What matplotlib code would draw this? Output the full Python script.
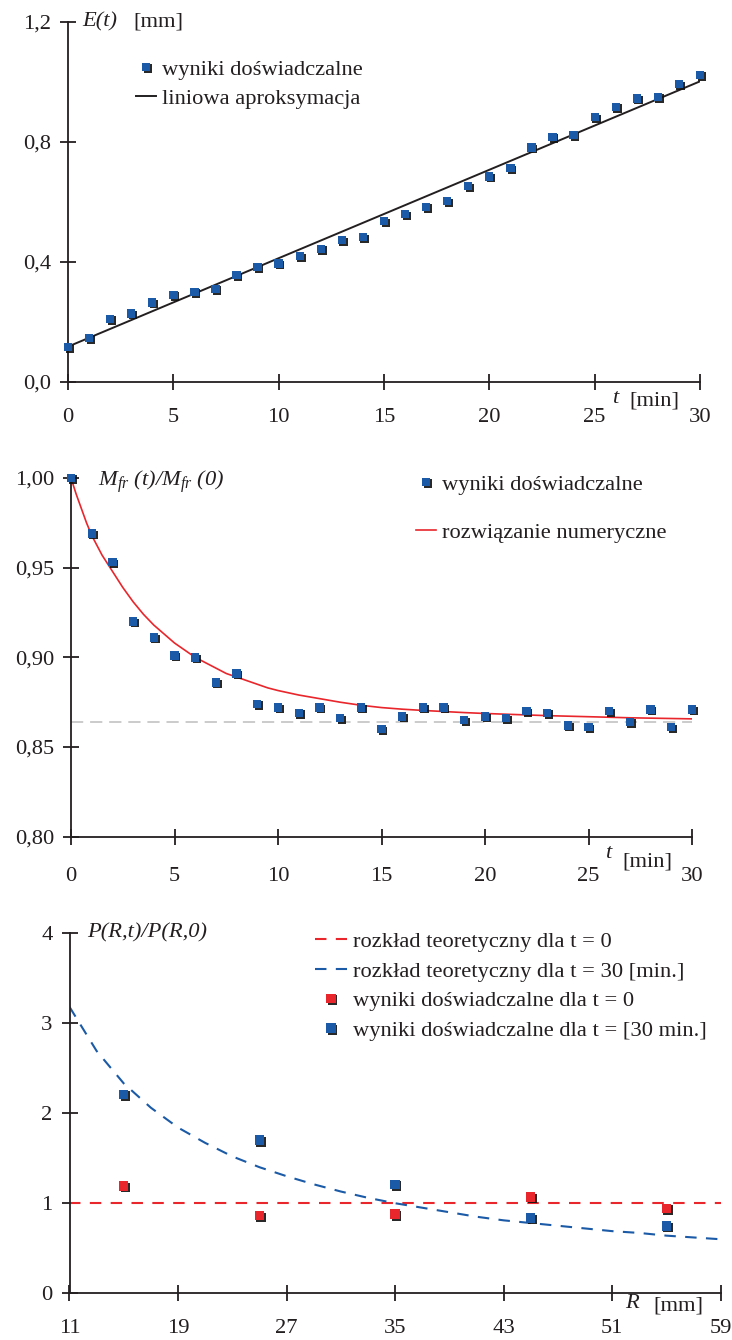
import numpy as np
import matplotlib
matplotlib.use("Agg")
import matplotlib.pyplot as plt
import matplotlib.patheffects as pe

# ---------------------------------------------------------------- data
# panel 1: E(t) [mm]
t_exp = list(range(0, 31))
E_exp = [0.115, 0.146, 0.210, 0.228, 0.264, 0.290, 0.300, 0.310, 0.355, 0.382,
         0.394, 0.419, 0.443, 0.472, 0.482, 0.536, 0.559, 0.583, 0.602, 0.652,
         0.685, 0.712, 0.781, 0.817, 0.824, 0.882, 0.917, 0.945, 0.950, 0.993,
         1.024]
t_lin = [0, 30]
E_lin = [0.117, 1.002]

# panel 2: M_fr(t)/M_fr(0)
M_exp = [1.000, 0.969, 0.953, 0.920, 0.911, 0.901, 0.900, 0.886, 0.891, 0.874,
         0.872, 0.869, 0.872, 0.866, 0.872, 0.860, 0.867, 0.872, 0.872, 0.865,
         0.867, 0.866, 0.870, 0.869, 0.862, 0.861, 0.870, 0.864, 0.871, 0.861,
         0.871]
t_num = [0, 0.25, 0.5, 0.75, 1, 1.5, 2, 2.5, 3, 3.5, 4, 4.5, 5, 5.5, 6, 6.5, 7,
         7.5, 8, 8.5, 9, 9.5, 10, 11, 12, 13, 14, 15, 16, 17, 18, 19, 20, 21,
         22, 23, 24, 25, 26, 27, 28, 29, 30]
M_num = [1.000, 0.991, 0.983, 0.975, 0.968, 0.957, 0.948, 0.939, 0.931, 0.924,
         0.918, 0.913, 0.908, 0.904, 0.900, 0.897, 0.894, 0.891, 0.889, 0.887,
         0.885, 0.883, 0.8815, 0.879, 0.877, 0.875, 0.8733, 0.8720, 0.8711,
         0.8704, 0.8698, 0.8692, 0.8687, 0.8683, 0.8679, 0.8675, 0.8672,
         0.8669, 0.8666, 0.8663, 0.8661, 0.8659, 0.8657]
M_inf = 0.864

# panel 3: P(R,t)/P(R,0)
R_exp = [15, 25, 35, 45, 55]
P0_exp = [1.19, 0.863, 0.878, 1.07, 0.941]
P30_exp = [2.21, 1.70, 1.21, 0.837, 0.748]
R_th0 = [11, 59]
P_th0 = [1.0, 1.0]
R_th30 = [11, 13, 15, 17, 19, 21, 23, 25, 27, 29, 31, 33, 35, 37, 39, 41, 43,
          45, 47, 49, 51, 53, 55, 57, 59]
P_th30 = [3.18, 2.69, 2.33, 2.06, 1.84, 1.67, 1.52, 1.40, 1.30, 1.21, 1.13,
          1.06, 1.00, 0.95, 0.90, 0.85, 0.81, 0.78, 0.75, 0.72, 0.69, 0.67,
          0.64, 0.62, 0.60]

# ---------------------------------------------------------------- style
plt.rcParams['font.family'] = ['Liberation Serif', 'DejaVu Serif']
plt.rcParams['mathtext.fontset'] = 'custom'
plt.rcParams['mathtext.rm'] = 'Liberation Serif'
plt.rcParams['mathtext.it'] = 'Liberation Serif:italic'
FS = 16.2
INK = '#231f20'
BLUE = '#1b5aa6'
RED = '#e8262b'
shadow = [pe.SimplePatchShadow(offset=(1.2, -1.2), shadow_rgbFace='#111111', alpha=0.9),
          pe.Normal()]

W, H = 732, 1340
fig = plt.figure(figsize=(W / 100, H / 100), dpi=100)


def make_axes(left, right, top, bottom):
    # pixel box -> figure fraction
    ax = fig.add_axes([left / W, 1 - bottom / H, (right - left) / W, (bottom - top) / H])
    for s in ['top', 'right']:
        ax.spines[s].set_visible(False)
    for s in ['left', 'bottom']:
        ax.spines[s].set_linewidth(1.3)
        ax.spines[s].set_color(INK)
    ax.tick_params(direction='inout', length=11.5, width=1.3, color=INK,
                   labelsize=FS, labelcolor=INK)
    ax.tick_params(axis='y', pad=6.5)
    return ax


def labels(ax, x_ticks, y_ticks, y_fmt, xpad):
    ax.set_xticks(x_ticks)
    ax.set_xticklabels([str(v) for v in x_ticks])
    ax.set_yticks(y_ticks)
    ax.set_yticklabels([y_fmt.format(v).replace('.', ',') for v in y_ticks])
    ax.tick_params(axis='x', pad=xpad)


def off_text(ax, s, dx, dy, xy, **kw):
    ax.annotate(s, xy=xy, xycoords='axes fraction', xytext=(dx * 0.72, dy * 0.72),
                textcoords='offset points', fontsize=FS, color=INK,
                va='center', ha='left', annotation_clip=False, **kw)


def legend(ax, x_px, top_px, left, top, bottom, width, hl, ls):
    ax.legend(loc='upper left',
              bbox_to_anchor=((x_px - left) / width, (bottom - top_px) / (bottom - top)),
              frameon=False, fontsize=FS, borderpad=0, borderaxespad=0,
              handlelength=hl, handletextpad=0.27, labelspacing=ls,
              labelcolor=INK)


# ---------------------------------------------------------------- panel 1
ax1 = make_axes(68, 700, 22, 381.7)
ax1.set_xlim(0, 30)
ax1.set_ylim(0, 1.2)
ax1.plot(t_exp, E_exp, 's', color=BLUE, ms=6, mew=0, clip_on=False, zorder=3,
         path_effects=shadow, label='wyniki doświadczalne')
ax1.plot(t_lin, E_lin, '-', color=INK, lw=1.4, zorder=2, label='liniowa aproksymacja')
labels(ax1, [0, 5, 10, 15, 20, 25, 30], [0.0, 0.4, 0.8, 1.2], '{:.1f}', 13)
off_text(ax1, 'E(t)', 14.7, 0, (0, 1), style='italic')
off_text(ax1, '[mm]', 65, 0, (0, 1))
off_text(ax1, 't', 543.7, -17, (0, 0), style='italic')
off_text(ax1, '[min]', 561, -19, (0, 0))
legend(ax1, 136, 59, 68, 22, 381.7, 632, 0.89, 0.37)

# ---------------------------------------------------------------- panel 2
ax2 = make_axes(71, 692, 478, 836.7)
ax2.set_xlim(0, 30)
ax2.set_ylim(0.80, 1.00)
ax2.plot([0, 30], [M_inf, M_inf], color='#bdbdbd', lw=1.1, dashes=(8, 4.5), zorder=1)
ax2.plot(t_exp, M_exp, 's', color=BLUE, ms=6, mew=0, clip_on=False, zorder=3,
         path_effects=shadow, label='wyniki doświadczalne')
ax2.plot(t_num, M_num, '-', color=RED, lw=1.2, zorder=2, label='rozwiązanie numeryczne')
labels(ax2, [0, 5, 10, 15, 20, 25, 30], [0.80, 0.85, 0.90, 0.95, 1.00], '{:.2f}', 16)
off_text(ax2, r'M$_{fr}$ (t)/M$_{fr}$ (0)', 27, -4, (0, 1), style='italic')
off_text(ax2, 't', 534, -17, (0, 0), style='italic')
off_text(ax2, '[min]', 551.7, -25, (0, 0))
legend(ax2, 416, 474, 71, 478, 836.7, 621, 0.89, 1.22)

# ---------------------------------------------------------------- panel 3
ax3 = make_axes(69.5, 720.7, 933, 1293.3)
ax3.set_xlim(11, 59)
ax3.set_ylim(0, 4)
ax3.plot(R_th0, P_th0, color=RED, lw=1.5, dashes=(5.5, 4.5), zorder=2,
         label='rozkład teoretyczny dla t = 0')
ax3.plot(R_th30, P_th30, color=BLUE, lw=1.5, dashes=(5.5, 4.5), zorder=2,
         label='rozkład teoretyczny dla t = 30 [min.]')
ax3.plot(R_exp, P0_exp, 's', color=RED, ms=6.8, mew=0, zorder=3,
         path_effects=shadow, label='wyniki doświadczalne dla t = 0')
ax3.plot(R_exp, P30_exp, 's', color=BLUE, ms=6.8, mew=0, zorder=3,
         path_effects=shadow, label='wyniki doświadczalne dla t = [30 min.]')
labels(ax3, [11, 19, 27, 35, 43, 51, 59], [0, 1, 2, 3, 4], '{:d}', 13)
off_text(ax3, 'P(R,t)/P(R,0)', 17.5, 0, (0, 1), style='italic')
off_text(ax3, 'R', 555.5, -10, (0, 0), style='italic')
off_text(ax3, '[mm]', 583.5, -13, (0, 0))
legend(ax3, 315, 931, 69.5, 933, 1293.3, 651.2, 1.41, 0.40)

fig.savefig('out.png', dpi=100)
